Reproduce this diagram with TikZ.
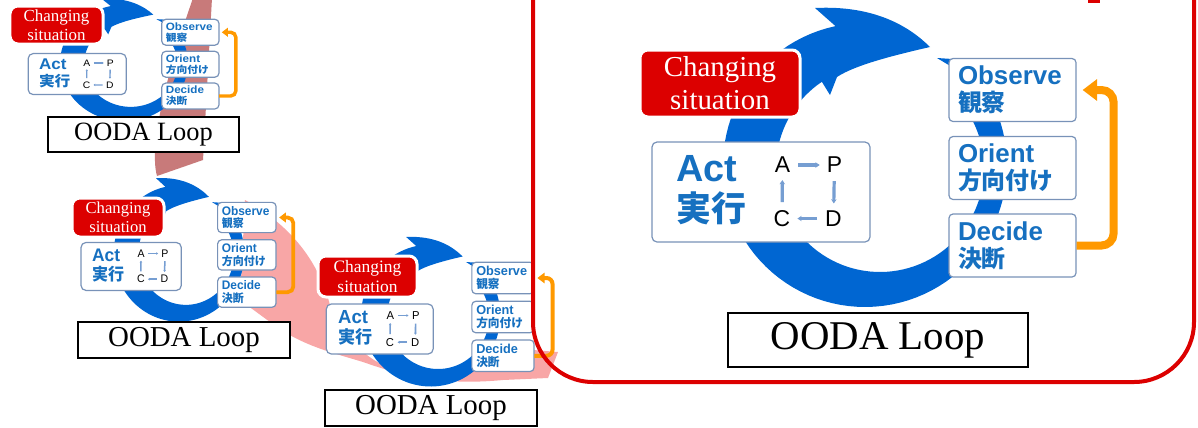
\documentclass[tikz,border=0pt]{standalone}
\usepackage{fontspec}
\setmainfont{Liberation Serif}
\setsansfont{Liberation Sans}
\newfontfamily\jp{Noto Sans CJK JP}
\usetikzlibrary{arrows.meta}

\definecolor{ringblue}{RGB}{0,102,210}
\definecolor{txtblue}{RGB}{22,112,192}
\definecolor{boxline}{RGB}{120,146,184}
\definecolor{sitred}{RGB}{220,0,0}
\definecolor{looporange}{RGB}{255,153,0}
\definecolor{pdcablue}{RGB}{118,158,210}
\definecolor{bandrose}{RGB}{200,122,122}
\definecolor{bandpink}{RGB}{248,166,166}

\newcommand\jpt[1]{{\jp\bfseries\fontsize{24}{27}\selectfont #1}}

\tikzset{
  odabox/.style={draw=boxline, line width=1.2bp, fill=white, rounded corners=4bp,
    minimum width=127bp, minimum height=63bp, text width=109bp, inner xsep=9bp,
    inner ysep=0bp, align=left, text=txtblue,
    font=\fontsize{26}{27}\selectfont\sffamily\bfseries},
  actbox/.style={draw=boxline, line width=1.2bp, fill=white, rounded corners=5bp,
    minimum width=218bp, minimum height=100bp},
  pdca/.style={inner sep=3bp, font=\fontsize{23}{24}\selectfont\sffamily},
  pdcaarrow/.style={draw=pdcablue, line width=#1*3.2bp, shorten <=#1*5bp, shorten >=#1*4bp,
    -{Stealth[length=0pt 1.3, width=0pt 1.7]}},
  sitbox/.style={fill=sitred, draw=white, line width=3bp, rounded corners=8bp,
    text=white, align=center, inner sep=1bp},
  oodaname/.style={draw=black, fill=white, inner sep=0bp},
  ooda/.pic={
    % circular arrow
    \fill[ringblue] (72,-107) -- plot[domain=48:-258, samples=90] ({142*cos(\x)},{-142*sin(\x)})
      -- (-50,-157) .. controls (10,-160) and (45,-138) .. (65,-118)
      .. controls (30,-110) and (-10,-100) .. (-28,-88) -- (-35,-70)
      -- plot[domain=-236:42, samples=90] ({15+104*cos(\x)},{3-104*sin(\x)})
      -- (87,-98) -- cycle;
    % act block
    \node[actbox] (-act) at (-104,27) {};
    \node[anchor=west, align=left, inner sep=0bp, text=txtblue,
      font=\fontsize{38}{40}\selectfont\sffamily\bfseries] (-actlbl) at (-189,25)
      {Act\\{\jp\fontsize{35}{40}\selectfont 実行}};
    \node[pdca] (-a) at (-82.5,0) {A};
    \node[pdca] (-p) at (-30.5,0) {P};
    \node[pdca] (-c) at (-83,53.5) {C};
    \node[pdca] (-d) at (-31.5,53.5) {D};
    \draw[pdcaarrow=#1] (-a) -- (-p);
    \draw[pdcaarrow=#1] (-p) -- (-d);
    \draw[pdcaarrow=#1] (-d) -- (-c);
    \draw[pdcaarrow=#1] (-c) -- (-a);
    % observe, orient, decide
    \node[odabox] (-obs) at (147.5,-75) {Observe\\\jpt{観察}};
    \node[odabox] (-ori) at (147.5,3) {Orient\\\jpt{方向付け}};
    \node[odabox] (-dec) at (147.5,80.5) {Decide\\\jpt{決断}};
    \draw[looporange, line width=#1*8bp, rounded corners=#1*12bp, shorten >=#1*6bp,
      -{Triangle[length=0pt 1.8, width=0pt 2.6]}] (-dec.east) -- ++(37,0) |- (-obs.east);
  }
}

\begin{document}
\begin{tikzpicture}[x=1bp, y=-1bp]
\useasboundingbox (0,0) rectangle (1198,427);
\clip (0,0) rectangle (1198,427);

% spiral bands
\fill[bandrose] (193,-2) -- (212,-2) -- (203,160) -- (157,176) .. controls (147,140) and (175,50) .. (193,-2);
\fill[bandpink] (245,200) .. controls (290,225) and (318,260) .. (330,305)
  .. controls (345,345) and (380,372) .. (420,376) .. controls (470,378) and (490,352) .. (533,350)
  -- (558,352) -- (548,378) -- (503,380) .. controls (440,386) and (400,375) .. (363,362)
  .. controls (330,352) and (300,345) .. (270,322) -- (240,300) -- cycle;

% loops
\pic[xscale=.45, yscale=.41, transform shape] (ls) at (124,63) {ooda=0.43};
\pic[xscale=.46, yscale=.48, transform shape] (lm) at (179,253.5) {ooda=0.47};
\pic[xscale=.49, yscale=.5, transform shape] (lr) at (430.7,315.5) {ooda=0.5};
\pic (big) at (865,165) {ooda=1};

% changing situation
\node[sitbox, minimum width=93bp, minimum height=38bp, font=\fontsize{17}{19}\selectfont] (lssit) at (56.5,25) {Changing\\situation};
\node[sitbox, minimum width=92bp, minimum height=39bp, font=\fontsize{16.7}{19}\selectfont] (lmsit) at (118,217.5) {Changing\\situation};
\node[sitbox, minimum width=99bp, minimum height=41bp, font=\fontsize{17.5}{20}\selectfont] (lrsit) at (367.5,276.5) {Changing\\situation};
\node[sitbox, minimum width=160bp, minimum height=67bp, font=\fontsize{29}{33}\selectfont] (bigsit) at (720,83.5) {Changing\\situation};

% names
\node[oodaname, line width=2bp, minimum width=191bp, minimum height=35bp, font=\fontsize{26.5}{28}\selectfont] (lsname) at (143.5,134.5) {OODA Loop};
\node[oodaname, line width=2bp, minimum width=212bp, minimum height=36bp, font=\fontsize{29}{30}\selectfont] (lmname) at (184,340) {OODA Loop};
\node[oodaname, line width=2bp, minimum width=212bp, minimum height=36bp, font=\fontsize{29}{30}\selectfont] (lrname) at (431,408) {OODA Loop};
\node[oodaname, line width=2.7bp, minimum width=300bp, minimum height=54bp, font=\fontsize{41}{42}\selectfont] (bigname) at (878,340) {OODA Loop};

% frame
\draw[sitred, line width=4bp, rounded corners=60bp] (533,-20) |- (1194,382) -- (1194,-20);
\fill[sitred] (1088,-5) rectangle (1100,3);
\end{tikzpicture}
\end{document}
